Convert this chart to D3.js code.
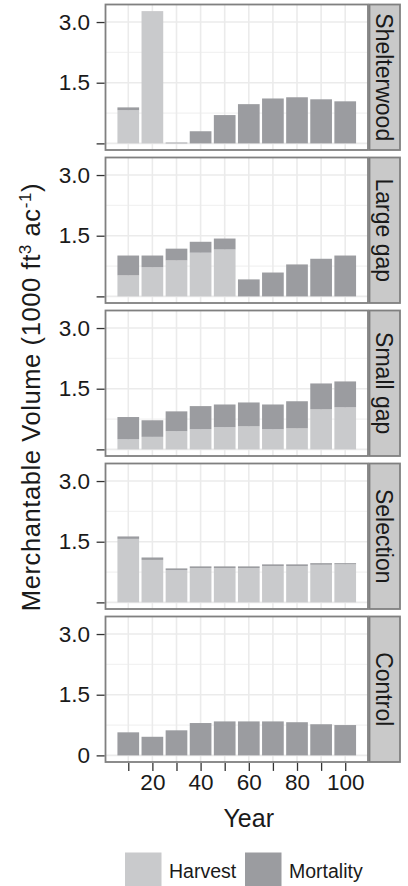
<!DOCTYPE html>
<html>
<head>
<meta charset="utf-8">
<script src="https://cdn.jsdelivr.net/npm/d3@7/dist/d3.min.js"></script>
<style>
  html, body { margin: 0; padding: 0; background: #fff; }
  svg { display: block; font-family: "Liberation Sans", Arial, Helvetica, sans-serif; }
</style>
</head>
<body>
<svg id="chart" width="408" height="886"></svg>
<script>
// Merchantable volume removed (harvest) and lost (mortality) per decade, by treatment
const years = [10, 20, 30, 40, 50, 60, 70, 80, 90, 100];
const treatments = ["Shelterwood", "Large gap", "Small gap", "Selection", "Control"];
const components = ["Harvest", "Mortality"];

const shelterwoodHarvest   = [0.82, 3.27, 0.00, 0.00, 0.00, 0.00, 0.00, 0.00, 0.00, 0.00];
const shelterwoodMortality = [0.07, 0.00, 0.02, 0.30, 0.70, 0.97, 1.11, 1.14, 1.09, 1.04];
const largeGapHarvest      = [0.52, 0.72, 0.89, 1.08, 1.16, 0.00, 0.00, 0.00, 0.00, 0.00];
const largeGapMortality    = [0.49, 0.29, 0.29, 0.27, 0.27, 0.42, 0.59, 0.79, 0.93, 1.01];
const smallGapHarvest      = [0.25, 0.31, 0.45, 0.50, 0.55, 0.57, 0.50, 0.52, 0.99, 1.04];
const smallGapMortality    = [0.55, 0.41, 0.49, 0.57, 0.56, 0.59, 0.61, 0.67, 0.64, 0.64];
const selectionHarvest     = [1.57, 1.05, 0.80, 0.85, 0.85, 0.85, 0.90, 0.90, 0.93, 0.94];
const selectionMortality   = [0.06, 0.06, 0.04, 0.04, 0.04, 0.04, 0.04, 0.04, 0.04, 0.03];
const controlHarvest       = [0.00, 0.00, 0.00, 0.00, 0.00, 0.00, 0.00, 0.00, 0.00, 0.00];
const controlMortality     = [0.57, 0.46, 0.62, 0.80, 0.84, 0.84, 0.84, 0.82, 0.77, 0.75];

const yTicks = [0, 1.5, 3.0];
const yTickLabels = ["0", "1.5", "3.0"];
const yMinor = [0.75, 2.25];
const xTicks = years;
const xTickLabels = ["", "20", "", "40", "", "60", "", "80", "", "100"];

const harvestByTreatment = [shelterwoodHarvest, largeGapHarvest, smallGapHarvest, selectionHarvest, controlHarvest];
const mortalityByTreatment = [shelterwoodMortality, largeGapMortality, smallGapMortality, selectionMortality, controlMortality];

const colors = { Harvest: "#c9cacc", Mortality: "#9b9ca0" };

// layout
const panelLeft = 105.5, panelRight = 368, stripRight = 400.5;
const panelTop0 = 4.5, panelH = 145.5, panelGap = 7.5;
const grid = "#ebebeb", frame = "#808080";

const svg = d3.select("#chart");

// shared scales: bars 0.9 decade wide, 5% expansion on both axes
const barW = 9;
const xMin = years[0] - barW / 2, xMax = years[years.length - 1] + barW / 2;
const xPad = (xMax - xMin) * 0.05;
const x = d3.scaleLinear().domain([xMin - xPad, xMax + xPad]).range([panelLeft, panelRight]);

const allTotals = harvestByTreatment.flatMap((h, i) => h.map((v, j) => v + mortalityByTreatment[i][j]));
const yMaxData = d3.max(allTotals);
const yPad = yMaxData * 0.05;

const stack = d3.stack().keys(components);

treatments.forEach((name, i) => {
  const top = panelTop0 + i * (panelH + panelGap);
  const y = d3.scaleLinear().domain([-yPad, yMaxData + yPad]).range([top + panelH, top]);
  const g = svg.append("g");

  // panel background grid
  g.append("rect").attr("x", panelLeft).attr("y", top).attr("width", panelRight - panelLeft).attr("height", panelH).attr("fill", "#fff");
  g.selectAll(".hminor").data(yMinor).join("line")
    .attr("x1", panelLeft).attr("x2", panelRight)
    .attr("y1", d => y(d)).attr("y2", d => y(d))
    .attr("stroke", "#f2f2f2").attr("stroke-width", 1.2);
  g.selectAll(".hmajor").data(yTicks).join("line")
    .attr("x1", panelLeft).attr("x2", panelRight)
    .attr("y1", d => y(d)).attr("y2", d => y(d))
    .attr("stroke", grid).attr("stroke-width", 1.6);
  g.selectAll(".vgrid").data(xTicks).join("line")
    .attr("x1", d => x(d)).attr("x2", d => x(d))
    .attr("y1", top).attr("y2", top + panelH)
    .attr("stroke", grid).attr("stroke-width", 1.6);

  // stacked bars
  const rows = years.map((yr, j) => ({ year: yr, Harvest: harvestByTreatment[i][j], Mortality: mortalityByTreatment[i][j] }));
  const series = stack(rows);
  g.selectAll(".layer").data(series).join("g")
    .attr("fill", d => colors[d.key])
    .selectAll("rect").data(d => d.filter(s => s[1] - s[0] > 0)).join("rect")
    .attr("x", d => x(d.data.year - barW / 2))
    .attr("width", d => x(d.data.year + barW / 2) - x(d.data.year - barW / 2))
    .attr("y", d => y(d[1]))
    .attr("height", d => y(d[0]) - y(d[1]));

  // panel frame
  g.append("rect").attr("x", panelLeft).attr("y", top).attr("width", panelRight - panelLeft).attr("height", panelH)
    .attr("fill", "none").attr("stroke", frame).attr("stroke-width", 1.8);

  // facet strip
  g.append("rect").attr("x", panelRight + 1.5).attr("y", top).attr("width", stripRight - panelRight - 2).attr("height", panelH)
    .attr("fill", "#c9c9c9").attr("stroke", frame).attr("stroke-width", 1.8);
  g.append("text")
    .attr("transform", `translate(${(panelRight + stripRight) / 2 + 0.5},${top + panelH / 2}) rotate(90)`)
    .attr("text-anchor", "middle").attr("dy", "0.36em")
    .attr("font-size", 23).attr("fill", "#1a1a1a").text(name);

  // y axis
  const yAxis = g.append("g").attr("transform", `translate(${panelLeft - 0.9},0)`)
    .call(d3.axisLeft(y).tickValues(yTicks)
      .tickFormat((d, k) => (i === treatments.length - 1 || k > 0) ? yTickLabels[k] : "")
      .tickSize(8).tickPadding(6.5));
  yAxis.select(".domain").remove();
  yAxis.selectAll(".tick line").attr("stroke", "#333").attr("stroke-width", 1.3);
  yAxis.selectAll(".tick text").attr("font-size", 22.5).attr("fill", "#1a1a1a").attr("font-family", null);

  // x axis on the bottom panel only
  if (i === treatments.length - 1) {
    const xAxis = g.append("g").attr("transform", `translate(0,${top + panelH + 0.9})`)
      .call(d3.axisBottom(x).tickValues(xTicks).tickFormat((d, k) => xTickLabels[k]).tickSize(8).tickPadding(3));
    xAxis.select(".domain").remove();
    xAxis.selectAll(".tick line").attr("stroke", "#333").attr("stroke-width", 1.3);
    xAxis.selectAll(".tick text").attr("font-size", 22.5).attr("fill", "#1a1a1a").attr("font-family", null);
  }
});

// axis titles
svg.append("text").attr("x", (panelLeft + panelRight) / 2 + 12).attr("y", 827)
  .attr("text-anchor", "middle").attr("font-size", 25).attr("fill", "#1a1a1a").text("Year");

const yTitle = svg.append("text")
  .attr("transform", "translate(40,397) rotate(-90)")
  .attr("text-anchor", "middle").attr("font-size", 25.5).attr("letter-spacing", 0.6).attr("fill", "#1a1a1a");
yTitle.append("tspan").text("Merchantable Volume (1000 ft");
yTitle.append("tspan").attr("font-size", 17).attr("dy", -9).text("3");
yTitle.append("tspan").attr("dy", 9).text(" ac");
yTitle.append("tspan").attr("font-size", 17).attr("dy", -9).text("-1");
yTitle.append("tspan").attr("dy", 9).text(")");

// legend
const legendItems = [
  { key: "Harvest", x: 125 },
  { key: "Mortality", x: 245 }
];
const lg = svg.append("g");
lg.selectAll("rect").data(legendItems).join("rect")
  .attr("x", d => d.x).attr("y", 852.5).attr("width", 36.5).attr("height", 37)
  .attr("fill", d => colors[d.key]);
lg.selectAll("text").data(legendItems).join("text")
  .attr("x", d => d.x + 44).attr("y", 877.5)
  .attr("font-size", 19.5).attr("fill", "#1a1a1a").text(d => d.key);
</script>
</body>
</html>
